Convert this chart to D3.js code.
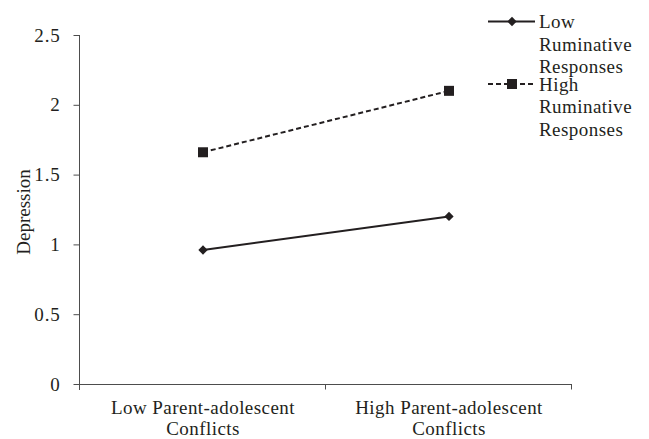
<!DOCTYPE html>
<html>
<head>
<meta charset="utf-8">
<script src="https://cdn.jsdelivr.net/npm/d3@7"></script>
<style>
  html, body { margin: 0; padding: 0; background: #fff; }
  svg { display: block; }
</style>
</head>
<body>
<svg id="chart" width="649" height="439" font-family="Liberation Serif"></svg>
<script>
const categories = [["Low Parent-adolescent", "Conflicts"], ["High Parent-adolescent", "Conflicts"]];
const categoryKeys = ["low", "high"];
const lowRuminative = [0.96, 1.20];
const highRuminative = [1.66, 2.10];
const seriesNames = [["Low", "Ruminative", "Responses"], ["High", "Ruminative", "Responses"]];
const yTicks = [0, 0.5, 1, 1.5, 2, 2.5];
const yTickLabels = ["0", "0.5", "1", "1.5", "2", "2.5"];
const yTitle = "Depression";

const FONT = "Liberation Serif";
const FS = 19;
const ink = "#231f20";
const axisColor = "#4d4d4d";
const svg = d3.select("#chart");

const x = d3.scaleBand().domain(categoryKeys).range([80, 572]).padding(0);
const y = d3.scaleLinear().domain([0, 2.5]).range([384, 35]);

// Y axis
const yAxis = svg.append("g").attr("transform", "translate(79.5,0)")
  .call(d3.axisLeft(y).tickValues(yTicks).tickFormat((d, i) => yTickLabels[i]).tickSize(6).tickPadding(13));
yAxis.attr("font-family", FONT).attr("font-size", FS);
yAxis.select(".domain").attr("stroke", axisColor).attr("d", `M0,${y(2.5)}V${y(0) + 6}`);
yAxis.selectAll(".tick line").attr("stroke", axisColor);
yAxis.selectAll(".tick text").attr("fill", ink).attr("font-family", FONT).attr("font-size", FS)
  .attr("letter-spacing", 0.8);

// X axis
const xAxisG = svg.append("g").attr("transform", `translate(0,${y(0) + 0.5})`);
xAxisG.append("line").attr("x1", x.range()[0]).attr("x2", x.range()[1]).attr("stroke", axisColor);
const boundaries = categoryKeys.map(k => x(k) + x.bandwidth());
xAxisG.selectAll("line.tk").data(boundaries).join("line")
  .attr("class", "tk").attr("x1", d => d - 0.5).attr("x2", d => d - 0.5)
  .attr("y1", 0).attr("y2", 5).attr("stroke", axisColor);

svg.append("g").selectAll("text").data(categoryKeys).join("text")
  .attr("text-anchor", "middle")
  .attr("fill", ink)
  .attr("font-family", FONT)
  .attr("font-size", FS)
  .attr("letter-spacing", 0.45)
  .each(function(d, i) {
    d3.select(this).selectAll("tspan").data(categories[i]).join("tspan")
      .attr("x", x(d) + x.bandwidth() / 2)
      .attr("y", (t, j) => 414 + j * 21)
      .text(t => t);
  });

// Y title
svg.append("text")
  .attr("transform", "translate(30,212) rotate(-90)")
  .attr("text-anchor", "middle")
  .attr("fill", ink)
  .attr("font-family", FONT)
  .attr("font-size", FS)
  .text(yTitle);

const cx = k => x(k) + x.bandwidth() / 2;
const line = d3.line().x(d => cx(d.k)).y(d => y(d.v));
const lowData = categoryKeys.map((k, i) => ({k, v: lowRuminative[i]}));
const highData = categoryKeys.map((k, i) => ({k, v: highRuminative[i]}));

svg.append("path").datum(lowData).attr("d", line).attr("fill", "none").attr("stroke", ink).attr("stroke-width", 2);
svg.append("path").datum(highData).attr("d", line).attr("fill", "none").attr("stroke", ink).attr("stroke-width", 2).attr("stroke-dasharray", "5,3");

const diamond = d3.symbol().type(d3.symbolDiamond2).size(55);
const square = d3.symbol().type(d3.symbolSquare).size(100);

svg.append("g").selectAll("path").data(lowData).join("path")
  .attr("d", diamond).attr("transform", d => `translate(${cx(d.k)},${y(d.v)})`).attr("fill", ink);
svg.append("g").selectAll("path").data(highData).join("path")
  .attr("d", square).attr("transform", d => `translate(${cx(d.k)},${y(d.v)})`).attr("fill", ink);

// Legend
const legendRows = [{y: 21.5, dash: null, sym: diamond}, {y: 84, dash: "5,3", sym: square}];
legendRows.forEach((r, i) => {
  const g = svg.append("g");
  g.append("line").attr("x1", 488).attr("x2", 535).attr("y1", r.y).attr("y2", r.y)
    .attr("stroke", ink).attr("stroke-width", 2).attr("stroke-dasharray", r.dash);
  g.append("path").attr("d", r.sym).attr("transform", `translate(512,${r.y})`).attr("fill", ink);
  const t = g.append("text").attr("fill", ink).attr("font-family", FONT).attr("font-size", FS)
    .attr("letter-spacing", 0.45);
  t.selectAll("tspan").data(seriesNames[i]).join("tspan")
    .attr("x", 539).attr("y", (s, j) => r.y + 6.5 + j * 22.5).text(s => s);
});
</script>
</body>
</html>
